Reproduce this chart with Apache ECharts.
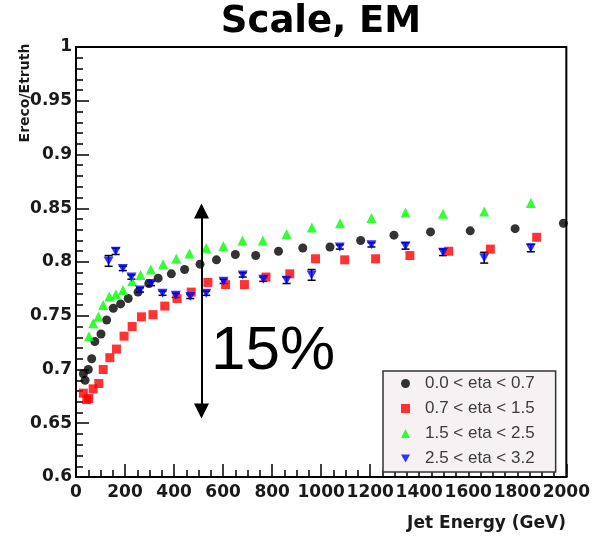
<!DOCTYPE html>
<html>
<head>
<meta charset="utf-8">
<script src="https://cdn.jsdelivr.net/npm/echarts@6/dist/echarts.min.js"></script>
<style>html,body{margin:0;padding:0;background:#fff}#c{width:593px;height:541px}</style>
</head>
<body>
<div id="c"></div>
<script>
const seriesNames = ['0.0 < eta < 0.7', '0.7 < eta < 1.5', '1.5 < eta < 2.5', '2.5 < eta < 3.2'];

const blackE = [30, 37, 50, 64, 77, 102, 125, 152, 182, 213, 253, 297, 335, 389, 443, 506, 573, 650, 733, 826, 925, 1036, 1161, 1297, 1446, 1608, 1791, 1988];
const blackV = [0.696, 0.690, 0.700, 0.710, 0.726, 0.733, 0.746, 0.757, 0.761, 0.766, 0.772, 0.780, 0.785, 0.789, 0.793, 0.798, 0.802, 0.807, 0.806, 0.810, 0.813, 0.814, 0.820, 0.825, 0.828, 0.829, 0.831, 0.836];

const redE = [30, 44, 52, 70, 93, 111, 138, 165, 196, 229, 267, 314, 362, 412, 470, 538, 610, 687, 775, 872, 977, 1096, 1222, 1362, 1520, 1690, 1879];
const redV = [0.678, 0.672, 0.673, 0.682, 0.687, 0.700, 0.711, 0.719, 0.731, 0.740, 0.749, 0.751, 0.759, 0.766, 0.772, 0.781, 0.779, 0.779, 0.786, 0.789, 0.803, 0.802, 0.803, 0.806, 0.810, 0.812, 0.823];

const greenE = [53, 70, 91, 111, 136, 163, 192, 229, 263, 305, 355, 409, 463, 531, 601, 679, 762, 859, 962, 1077, 1205, 1344, 1497, 1665, 1855];
const greenV = [0.731, 0.743, 0.749, 0.760, 0.768, 0.770, 0.774, 0.782, 0.788, 0.793, 0.798, 0.803, 0.808, 0.813, 0.815, 0.820, 0.820, 0.826, 0.832, 0.836, 0.841, 0.846, 0.845, 0.847, 0.855];

const blueE = [133, 162, 191, 226, 261, 306, 353, 407, 466, 531, 602, 680, 764, 859, 961, 1076, 1205, 1344, 1497, 1665, 1855];
const blueV = [0.801, 0.810, 0.794, 0.786, 0.774, 0.780, 0.771, 0.769, 0.768, 0.771, 0.782, 0.788, 0.784, 0.783, 0.788, 0.814, 0.816, 0.815, 0.809, 0.804, 0.813];
const blueErr = [0.005, 0.003, 0.002, 0.002, 0.002, 0.002, 0.002, 0.002, 0.002, 0.002, 0.002, 0.002, 0.002, 0.003, 0.005, 0.002, 0.002, 0.003, 0.003, 0.005, 0.0035];

const xTicks = {min: 0, max: 2000, interval: 200};
const yTicks = {min: 0.6, max: 1, interval: 0.05};

const arrowFrom = [512, 0.6614];
const arrowTo = [512, 0.8474];

const zip = (a, b) => a.map((v, i) => [v, b[i]]);
const downTri = 'path://M0,0L20,0L10,17.32Z';

const chart = echarts.init(document.getElementById('c'), null, {renderer: 'canvas'});
const tickFont = {fontFamily: 'DejaVu Sans', fontWeight: 'bold', fontSize: 17, color: '#1a1a1a'};

chart.setOption({
  animation: false,
  backgroundColor: '#fff',
  grid: {left: 76, right: 25, top: 47, bottom: 64, show: true, borderColor: '#000', borderWidth: 2, backgroundColor: 'transparent'},
  xAxis: {
    type: 'value', min: xTicks.min, max: xTicks.max, interval: xTicks.interval,
    axisLine: {show: true, onZero: false, lineStyle: {color: '#000', width: 2}},
    axisTick: {show: true, inside: true, length: 13, lineStyle: {color: '#000', width: 1.5}},
    minorTick: {show: true, splitNumber: 4, length: 7, lineStyle: {color: '#000', width: 1.5}},
    splitLine: {show: false},
    axisLabel: Object.assign({margin: 7, showMinLabel: true, showMaxLabel: true, hideOverlap: false, formatter: v => String(v)}, tickFont)
  },
  yAxis: {
    type: 'value', min: yTicks.min, max: yTicks.max, interval: yTicks.interval,
    axisLine: {show: true, onZero: false, lineStyle: {color: '#000', width: 2}},
    axisTick: {show: true, inside: true, length: 13, lineStyle: {color: '#000', width: 1.5}},
    minorTick: {show: true, splitNumber: 5, length: 7, lineStyle: {color: '#000', width: 1.5}},
    splitLine: {show: false},
    axisLabel: Object.assign({margin: 4, showMinLabel: true, showMaxLabel: true}, tickFont)
  },
  legend: {
    data: [
      {name: seriesNames[0], icon: 'circle'},
      {name: seriesNames[1], icon: 'rect'},
      {name: seriesNames[2], icon: 'triangle'},
      {name: seriesNames[3], icon: downTri}
    ],
    orient: 'vertical', left: 383, top: 371,
    itemWidth: 9, itemHeight: 9, itemGap: 8,
    padding: [4, 21, 5, 18],
    backgroundColor: '#f6f2f4', borderColor: '#333', borderWidth: 1.5,
    textStyle: {fontFamily: 'Liberation Sans', fontSize: 17, color: '#3c3c3c', lineHeight: 16, padding: [0, 0, 0, 10]}
  },
  graphic: [
    {type: 'text', x: 321, y: 22, style: {text: 'Scale, EM', font: 'bold 37px "DejaVu Sans"', fill: '#000', textAlign: 'center', textVerticalAlign: 'middle'}},
    {type: 'text', x: 25, y: 93, rotation: Math.PI / 2, style: {text: 'Ereco/Etruth', font: 'bold 14px "DejaVu Sans"', fill: '#1a1a1a', textAlign: 'center', textVerticalAlign: 'middle'}},
    {type: 'text', x: 566, y: 524, style: {text: 'Jet Energy (GeV)', font: 'bold 17px "DejaVu Sans"', fill: '#1a1a1a', textAlign: 'right', textVerticalAlign: 'middle'}},
    {type: 'text', x: 211, y: 352, style: {text: '15%', font: '62px "Liberation Sans"', fill: '#000', textAlign: 'left', textVerticalAlign: 'middle'}}
  ],
  series: [
    {name: seriesNames[0], type: 'scatter', data: zip(blackE, blackV), symbol: 'circle', symbolSize: 9, itemStyle: {color: '#000'}, z: 3},
    {name: seriesNames[1], type: 'scatter', data: zip(redE, redV), symbol: 'rect', symbolSize: 9, itemStyle: {color: '#ff0000'}, z: 3},
    {name: seriesNames[2], type: 'scatter', data: zip(greenE, greenV), symbol: 'triangle', symbolSize: 10, itemStyle: {color: '#00ff00'}, z: 3},
    {name: seriesNames[3], type: 'scatter', data: zip(blueE, blueV), symbol: downTri, symbolSize: [10, 9], itemStyle: {color: '#0000ff'}, z: 4},
    {
      name: 'err', type: 'custom', z: 3,
      data: blueE.map((e, i) => [e, blueV[i] - blueErr[i], blueV[i] + blueErr[i]]),
      renderItem: function (params, api) {
        const x = api.value(0);
        const lo = api.coord([x, api.value(1)]);
        const hi = api.coord([x, api.value(2)]);
        const w = 4, st = {stroke: '#000', lineWidth: 1.5};
        return {type: 'group', children: [
          {type: 'line', shape: {x1: lo[0], y1: lo[1], x2: hi[0], y2: hi[1]}, style: st},
          {type: 'line', shape: {x1: lo[0] - w, y1: lo[1], x2: lo[0] + w, y2: lo[1]}, style: st},
          {type: 'line', shape: {x1: hi[0] - w, y1: hi[1], x2: hi[0] + w, y2: hi[1]}, style: st}
        ]};
      }
    },
    {
      name: 'arrow', type: 'line', data: [], silent: true,
      markLine: {
        silent: true, symbol: ['triangle', 'triangle'], symbolSize: [15, 15],
        lineStyle: {color: '#000', width: 2, type: 'solid'}, label: {show: false},
        emphasis: {disabled: true},
        data: [[{coord: arrowFrom}, {coord: arrowTo}]]
      }
    }
  ]
});
</script>
</body>
</html>
